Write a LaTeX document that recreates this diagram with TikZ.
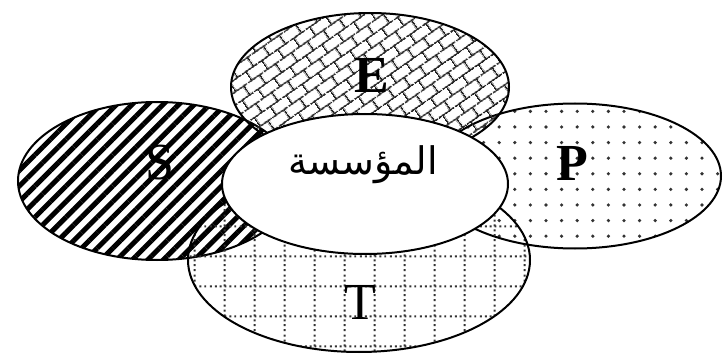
\documentclass[tikz,border=0pt]{standalone}
\usepackage{fontspec}
\setmainfont{Liberation Serif}
\newfontfamily\arabicfont[Script=Arabic]{DejaVu Sans}
\TeXXeTstate=1
\usetikzlibrary{shapes.geometric, patterns, patterns.meta, calc}

% brick hatching (top field)
\tikzdeclarepattern{
  name=bricks,
  type=uncolored,
  bounding box={(0pt,0pt) and (19pt,22pt)},
  tile size={(19pt,22pt)},
  tile transformation={rotate=35},
  code={
    \draw[line width=1.6pt] (0pt,5.5pt) -- (19pt,5.5pt)
      (0pt,16.5pt) -- (19pt,16.5pt)
      (4.75pt,5.5pt) -- (4.75pt,16.5pt)
      (14.25pt,16.5pt) -- (14.25pt,22pt)
      (14.25pt,0pt) -- (14.25pt,5.5pt);
  }
}

% dotted grid (bottom field)
\tikzdeclarepattern{
  name=dotgrid,
  type=uncolored,
  bounding box={(0pt,0pt) and (30pt,30pt)},
  tile size={(30pt,30pt)},
  code={
    \draw[line width=2pt, dash pattern=on 2pt off 3pt]
      (0pt,15pt) -- (30pt,15pt) (15pt,0pt) -- (15pt,30pt);
  }
}

\begin{document}
\begin{tikzpicture}[
    x=1pt, y=-1pt,
    field/.style={ellipse, draw, line width=2pt, inner sep=0pt},
    letter/.style={font=\fontsize{52}{52}\selectfont, inner sep=0pt},
    stripes/.style={pattern={Lines[angle=45, distance=11pt, line width=5pt]}},
    brickfill/.style={pattern=bricks, pattern color=black!85},
    dotfill/.style={pattern={Dots[distance=15.6pt, radius=1.8pt]}, pattern color=black!80},
    gridfill/.style={pattern=dotgrid, pattern color=black!80}
]
\useasboundingbox (0,0) rectangle (724,361);

% Fields, back to front
\node[field, stripes, minimum width=278, minimum height=158] (s) at (157,181) {};
\node[field, dotfill, minimum width=292, minimum height=145] (p) at (575,176) {};
\node[field, brickfill, minimum width=278, minimum height=148] (e) at (370,87) {};
\node[field, gridfill, minimum width=342, minimum height=184] (t) at (359,260) {};

% Centre
\node[field, fill=white, minimum width=286, minimum height=140] (org) at (365,184) {};

% Labels
\node[letter] (labE) at ($(e)+(2,-12)$) {\textbf{E}};
\node[letter] (labS) at ($(s)+(3,-18)$) {S};
\node[letter] (labP) at ($(p)+(-3,-13)$) {\textbf{P}};
\node[letter] (labT) at ($(t)+(1,42)$) {T};
\node[font=\fontsize{38}{38}\selectfont, inner sep=0pt] (labOrg) at ($(org)+(-2,-19)$)
    {\arabicfont\beginR المؤسسة\endR};

\end{tikzpicture}
\end{document}
